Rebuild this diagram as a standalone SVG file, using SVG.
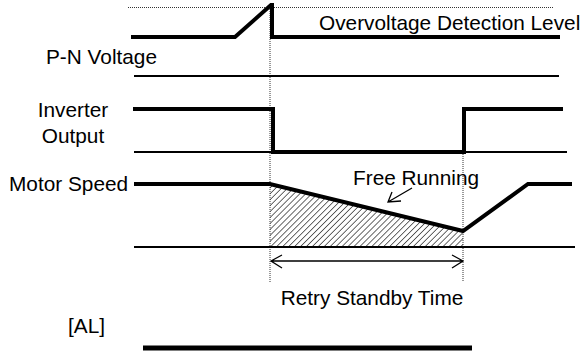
<svg xmlns="http://www.w3.org/2000/svg" width="586" height="351" viewBox="0 0 586 351">
<style>
text{font-family:"Liberation Sans",Arial,sans-serif;font-size:20.8px;fill:#000}
.thick{fill:none;stroke:#000;stroke-width:4;stroke-linejoin:miter}
.thin{fill:none;stroke:#000;stroke-width:2}
.dot{fill:none;stroke:#333;stroke-width:1;stroke-dasharray:1 1}
.arr{fill:none;stroke:#000;stroke-width:1.3}
</style>
<defs>
<pattern id="hatch" patternUnits="userSpaceOnUse" width="4.2" height="4.2" patternTransform="rotate(45)">
<line x1="0" y1="0" x2="0" y2="4.2" stroke="#444" stroke-width="1.6"/>
</pattern>
</defs>
<g id="hatch-area">
<polygon points="270,184 463,231 463,247 270,247" fill="url(#hatch)"/>
</g>
<g id="connectors">
<line class="dot" x1="128" y1="7.5" x2="553" y2="7.5"/>
<line class="dot" x1="270" y1="7" x2="270" y2="282"/>
<line class="dot" x1="463" y1="152" x2="463" y2="282"/>
<line class="thin" x1="134" y1="76" x2="559" y2="76"/>
<line class="thin" x1="134" y1="152" x2="567" y2="152"/>
<line class="thin" x1="134" y1="247" x2="575" y2="247"/>
<path class="thick" d="M131,37 L235,37 L271,5 L272,5 L272,37 L560,37"/>
<path class="thick" d="M133,109 L273,109 L273,152 L464,152 L464,109 L563,109"/>
<path class="thick" d="M134,184 L270,184 L463,231 L528,184 L572,184"/>
<line x1="143" y1="348" x2="472" y2="348" stroke="#000" stroke-width="5"/>
<path class="arr" d="M271,261 L463,261 M282,255 L271,261 L282,268 M452,255 L463,261 L452,268"/>
<path class="arr" d="M412,188 L388,202 M401,201 L388,202 L392,192"/>
</g>
<g id="labels">
<text x="319" y="29.5">Overvoltage Detection Level</text>
<text x="46" y="64">P-N Voltage</text>
<text x="73" y="117" text-anchor="middle">Inverter</text>
<text x="73" y="143" text-anchor="middle">Output</text>
<text x="9" y="191">Motor Speed</text>
<text x="353" y="185">Free Running</text>
<text x="372" y="305" text-anchor="middle">Retry Standby Time</text>
<text x="68" y="333">[AL]</text>
</g>
</svg>
